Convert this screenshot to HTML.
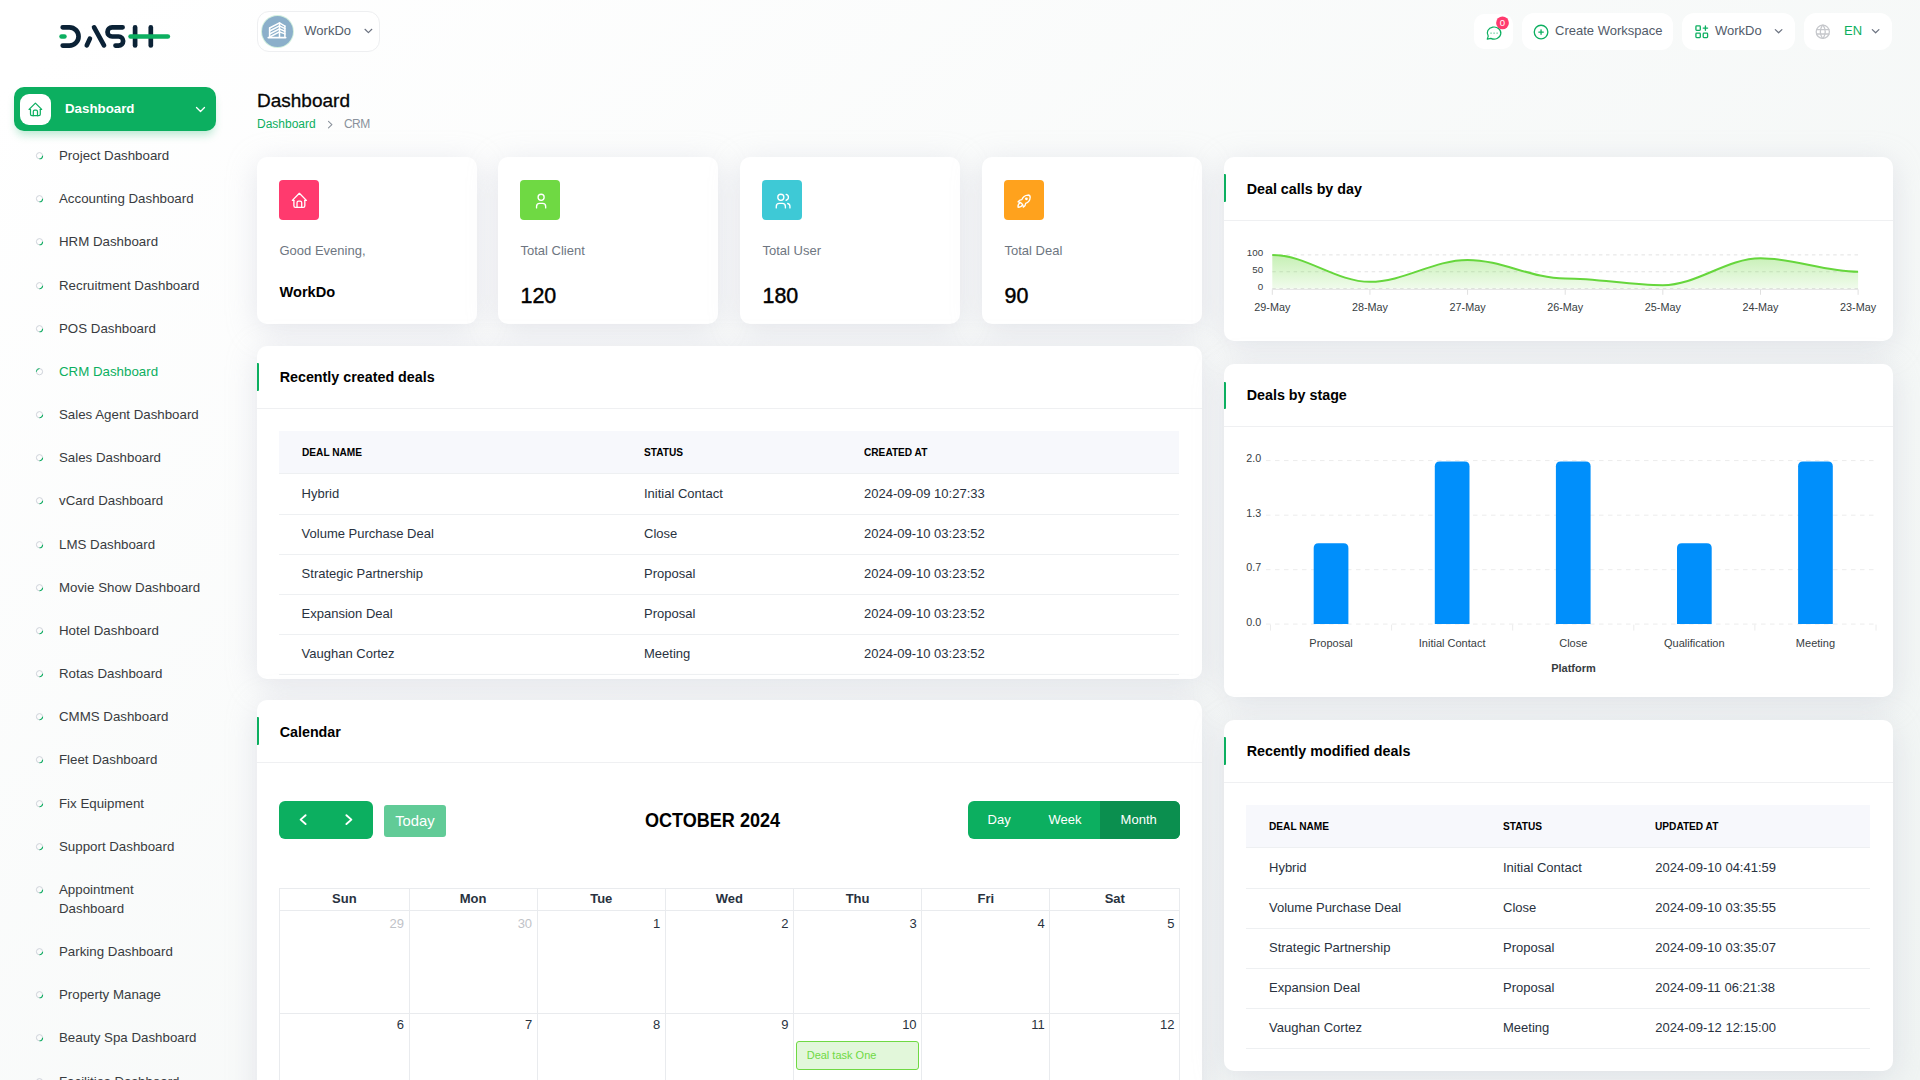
<!DOCTYPE html><html><head><meta charset='utf-8'><title>Dashboard</title><style>
*{margin:0;padding:0;box-sizing:border-box}
html,body{width:1920px;height:1080px;overflow:hidden}
body{font-family:"Liberation Sans",sans-serif;position:relative;
 background:linear-gradient(141.55deg,#ffffff 3.46%,#f0f4f3 99.86%);}
.t{position:absolute;white-space:nowrap}
.abs{position:absolute}
.card{position:absolute;background:#fff;border-radius:10px;box-shadow:0 6px 30px rgba(182,186,203,0.35)}
.hb{position:absolute;left:0;width:2px;background:#0caf60;border-radius:0 2px 2px 0}
.hl{position:absolute;left:0;right:0;height:1px;background:#f1f1f1}
.btn{position:absolute;background:#fff;border-radius:12px;}
svg{position:absolute;overflow:visible}
</style></head><body><div class="card" style="left:257px;top:157px;width:220px;height:167px"></div>
<div class="card" style="left:498px;top:157px;width:220px;height:167px"></div>
<div class="card" style="left:740px;top:157px;width:220px;height:167px"></div>
<div class="card" style="left:982px;top:157px;width:220px;height:167px"></div>
<div class="card" style="left:257px;top:346px;width:945px;height:333px"></div>
<div class="card" style="left:257px;top:700px;width:945px;height:500px"></div>
<div class="card" style="left:1224px;top:157px;width:669px;height:184.4px"></div>
<div class="card" style="left:1224px;top:364.4px;width:669px;height:332.8px"></div>
<div class="card" style="left:1224px;top:720px;width:669px;height:351px"></div><svg style="left:0;top:0" width="200" height="60" viewBox="0 0 200 60" fill="none" stroke-linecap="round" stroke-linejoin="round">
<g stroke="#0b2236" stroke-width="4.7">
<path d="M62.7 27.3 H69.4 A9.15 9.15 0 0 1 69.4 45.6 H62.7"/>
<path d="M86.8 45.4 L89.9 38.6"/>
<path d="M94.1 27.4 L104.0 45.4"/>
<path d="M122.6 27.3 H112.1 A4.6 4.6 0 0 0 112.1 36.5 H118.6 A4.55 4.55 0 0 1 118.6 45.6 H115.5"/>
<path d="M135.1 27.4 V45.5"/>
<path d="M150.8 27.4 V45.5"/>
</g>
<g stroke="#0caf60" stroke-width="4.7">
<path d="M61.6 36.5 H64.4"/>
<path d="M130.6 36.5 H167.8"/>
</g></svg>
<div class="abs" style="left:14px;top:87px;width:202px;height:44px;background:#0caf60;border-radius:10px;box-shadow:0 6px 9px -2px rgba(12,175,96,0.28)"></div>
<div class="abs" style="left:20px;top:94px;width:31px;height:31px;background:#fff;border-radius:9px"></div>

<svg style="left:27.10px;top:100.90px" width="16.80" height="16.80" viewBox="0 0 24 24" fill="none" stroke="#0caf60" stroke-width="1.75" stroke-linecap="round" stroke-linejoin="round"><path d="M5 12l-2 0l9 -9l9 9l-2 0"/><path d="M5 12v7a2 2 0 0 0 2 2h10a2 2 0 0 0 2 -2v-7"/><path d="M9 21v-6a2 2 0 0 1 2 -2h2a2 2 0 0 1 2 2v6"/></svg>

<div class='t' style='left:65px;top:101px;font-size:13.3px;line-height:15px;color:#fff;font-weight:700;'>Dashboard</div>
<svg style="left:0;top:0" width="220" height="140" fill="none" stroke="#fff" stroke-width="1.3" stroke-linecap="round" stroke-linejoin="round"><path d="M196.5 107.5 L200.5 111.5 L204.5 107.5"/></svg>
<div class='t' style='left:59px;top:148px;font-size:13.3px;line-height:15px;color:#383b40;font-weight:400;'>Project Dashboard</div>
<div class='t' style='left:59px;top:191px;font-size:13.3px;line-height:15px;color:#383b40;font-weight:400;'>Accounting Dashboard</div>
<div class='t' style='left:59px;top:234px;font-size:13.3px;line-height:15px;color:#383b40;font-weight:400;'>HRM Dashboard</div>
<div class='t' style='left:59px;top:278px;font-size:13.3px;line-height:15px;color:#383b40;font-weight:400;'>Recruitment Dashboard</div>
<div class='t' style='left:59px;top:321px;font-size:13.3px;line-height:15px;color:#383b40;font-weight:400;'>POS Dashboard</div>
<div class='t' style='left:59px;top:364px;font-size:13.3px;line-height:15px;color:#0caf60;font-weight:400;'>CRM Dashboard</div>
<div class='t' style='left:59px;top:407px;font-size:13.3px;line-height:15px;color:#383b40;font-weight:400;'>Sales Agent Dashboard</div>
<div class='t' style='left:59px;top:450px;font-size:13.3px;line-height:15px;color:#383b40;font-weight:400;'>Sales Dashboard</div>
<div class='t' style='left:59px;top:493px;font-size:13.3px;line-height:15px;color:#383b40;font-weight:400;'>vCard Dashboard</div>
<div class='t' style='left:59px;top:537px;font-size:13.3px;line-height:15px;color:#383b40;font-weight:400;'>LMS Dashboard</div>
<div class='t' style='left:59px;top:580px;font-size:13.3px;line-height:15px;color:#383b40;font-weight:400;'>Movie Show Dashboard</div>
<div class='t' style='left:59px;top:623px;font-size:13.3px;line-height:15px;color:#383b40;font-weight:400;'>Hotel Dashboard</div>
<div class='t' style='left:59px;top:666px;font-size:13.3px;line-height:15px;color:#383b40;font-weight:400;'>Rotas Dashboard</div>
<div class='t' style='left:59px;top:709px;font-size:13.3px;line-height:15px;color:#383b40;font-weight:400;'>CMMS Dashboard</div>
<div class='t' style='left:59px;top:752px;font-size:13.3px;line-height:15px;color:#383b40;font-weight:400;'>Fleet Dashboard</div>
<div class='t' style='left:59px;top:796px;font-size:13.3px;line-height:15px;color:#383b40;font-weight:400;'>Fix Equipment</div>
<div class='t' style='left:59px;top:839px;font-size:13.3px;line-height:15px;color:#383b40;font-weight:400;'>Support Dashboard</div>
<div class='t' style='left:59px;top:882px;font-size:13.3px;line-height:15px;color:#383b40;font-weight:400;'>Appointment</div>
<div class='t' style='left:59px;top:901px;font-size:13.3px;line-height:15px;color:#383b40;font-weight:400;'>Dashboard</div>
<div class='t' style='left:59px;top:944px;font-size:13.3px;line-height:15px;color:#383b40;font-weight:400;'>Parking Dashboard</div>
<div class='t' style='left:59px;top:987px;font-size:13.3px;line-height:15px;color:#383b40;font-weight:400;'>Property Manage</div>
<div class='t' style='left:59px;top:1030px;font-size:13.3px;line-height:15px;color:#383b40;font-weight:400;'>Beauty Spa Dashboard</div>
<div class='t' style='left:59px;top:1074px;font-size:13.3px;line-height:15px;color:#383b40;font-weight:400;'>Facilities Dashboard</div>
<svg style="left:0;top:0" width="60" height="1080" fill="none"><circle cx="39.5" cy="155.70" r="3.1" stroke="#c9ced6" stroke-width="0.9"/><path d="M42.6 155.70 A3.1 3.1 0 0 1 39.5 158.80" stroke="#0caf60" stroke-width="1.1"/><circle cx="39.5" cy="198.70" r="3.1" stroke="#c9ced6" stroke-width="0.9"/><path d="M42.6 198.70 A3.1 3.1 0 0 1 39.5 201.80" stroke="#0caf60" stroke-width="1.1"/><circle cx="39.5" cy="241.70" r="3.1" stroke="#c9ced6" stroke-width="0.9"/><path d="M42.6 241.70 A3.1 3.1 0 0 1 39.5 244.80" stroke="#0caf60" stroke-width="1.1"/><circle cx="39.5" cy="285.70" r="3.1" stroke="#c9ced6" stroke-width="0.9"/><path d="M42.6 285.70 A3.1 3.1 0 0 1 39.5 288.80" stroke="#0caf60" stroke-width="1.1"/><circle cx="39.5" cy="328.70" r="3.1" stroke="#c9ced6" stroke-width="0.9"/><path d="M42.6 328.70 A3.1 3.1 0 0 1 39.5 331.80" stroke="#0caf60" stroke-width="1.1"/><circle cx="39.5" cy="371.70" r="3.1" stroke="#c9ced6" stroke-width="0.9"/><path d="M36.4 371.70 A3.1 3.1 0 0 1 39.5 368.60" stroke="#0caf60" stroke-width="1"/><circle cx="39.5" cy="414.70" r="3.1" stroke="#c9ced6" stroke-width="0.9"/><path d="M42.6 414.70 A3.1 3.1 0 0 1 39.5 417.80" stroke="#0caf60" stroke-width="1.1"/><circle cx="39.5" cy="457.70" r="3.1" stroke="#c9ced6" stroke-width="0.9"/><path d="M42.6 457.70 A3.1 3.1 0 0 1 39.5 460.80" stroke="#0caf60" stroke-width="1.1"/><circle cx="39.5" cy="500.70" r="3.1" stroke="#c9ced6" stroke-width="0.9"/><path d="M42.6 500.70 A3.1 3.1 0 0 1 39.5 503.80" stroke="#0caf60" stroke-width="1.1"/><circle cx="39.5" cy="544.70" r="3.1" stroke="#c9ced6" stroke-width="0.9"/><path d="M42.6 544.70 A3.1 3.1 0 0 1 39.5 547.80" stroke="#0caf60" stroke-width="1.1"/><circle cx="39.5" cy="587.70" r="3.1" stroke="#c9ced6" stroke-width="0.9"/><path d="M42.6 587.70 A3.1 3.1 0 0 1 39.5 590.80" stroke="#0caf60" stroke-width="1.1"/><circle cx="39.5" cy="630.70" r="3.1" stroke="#c9ced6" stroke-width="0.9"/><path d="M42.6 630.70 A3.1 3.1 0 0 1 39.5 633.80" stroke="#0caf60" stroke-width="1.1"/><circle cx="39.5" cy="673.70" r="3.1" stroke="#c9ced6" stroke-width="0.9"/><path d="M42.6 673.70 A3.1 3.1 0 0 1 39.5 676.80" stroke="#0caf60" stroke-width="1.1"/><circle cx="39.5" cy="716.70" r="3.1" stroke="#c9ced6" stroke-width="0.9"/><path d="M42.6 716.70 A3.1 3.1 0 0 1 39.5 719.80" stroke="#0caf60" stroke-width="1.1"/><circle cx="39.5" cy="759.70" r="3.1" stroke="#c9ced6" stroke-width="0.9"/><path d="M42.6 759.70 A3.1 3.1 0 0 1 39.5 762.80" stroke="#0caf60" stroke-width="1.1"/><circle cx="39.5" cy="803.70" r="3.1" stroke="#c9ced6" stroke-width="0.9"/><path d="M42.6 803.70 A3.1 3.1 0 0 1 39.5 806.80" stroke="#0caf60" stroke-width="1.1"/><circle cx="39.5" cy="846.70" r="3.1" stroke="#c9ced6" stroke-width="0.9"/><path d="M42.6 846.70 A3.1 3.1 0 0 1 39.5 849.80" stroke="#0caf60" stroke-width="1.1"/><circle cx="39.5" cy="889.70" r="3.1" stroke="#c9ced6" stroke-width="0.9"/><path d="M42.6 889.70 A3.1 3.1 0 0 1 39.5 892.80" stroke="#0caf60" stroke-width="1.1"/><circle cx="39.5" cy="951.70" r="3.1" stroke="#c9ced6" stroke-width="0.9"/><path d="M42.6 951.70 A3.1 3.1 0 0 1 39.5 954.80" stroke="#0caf60" stroke-width="1.1"/><circle cx="39.5" cy="994.70" r="3.1" stroke="#c9ced6" stroke-width="0.9"/><path d="M42.6 994.70 A3.1 3.1 0 0 1 39.5 997.80" stroke="#0caf60" stroke-width="1.1"/><circle cx="39.5" cy="1037.70" r="3.1" stroke="#c9ced6" stroke-width="0.9"/><path d="M42.6 1037.70 A3.1 3.1 0 0 1 39.5 1040.80" stroke="#0caf60" stroke-width="1.1"/><circle cx="39.5" cy="1081.70" r="3.1" stroke="#c9ced6" stroke-width="0.9"/><path d="M42.6 1081.70 A3.1 3.1 0 0 1 39.5 1084.80" stroke="#0caf60" stroke-width="1.1"/></svg>
<div class="abs" style="left:257px;top:11px;width:122.5px;height:40.5px;background:#fff;border:1px solid #eeeff1;border-radius:12px"></div>
<div class="abs" style="left:262px;top:16px;width:31px;height:31px;border-radius:50%;background:#8bafca;box-shadow:0 0 0 1px #d3f0df"></div>
<svg style="left:262px;top:16px" width="31" height="31" viewBox="0 0 31 31" fill="none" stroke="#fff" stroke-width="1.5" stroke-linecap="round" stroke-linejoin="round"><path d="M7.6 12.0 L17.5 6.9 L22.9 10.1"/><path d="M7.6 15.0 L17.5 9.9 L22.9 12.7"/><path d="M7.6 18.0 L17.5 12.9 L22.9 15.3"/><path d="M7.6 21.0 L17.5 15.9 L22.9 17.9"/><path d="M7.6 12 V21.3"/><path d="M17.5 7 V21.3"/><path d="M22.9 10.1 V21.3"/><path d="M6.3 21.6 H23.6" stroke-width="1.8"/></svg>
<div class='t' style='left:304.3px;top:23px;font-size:13px;line-height:15px;color:#525b69;font-weight:400;'>WorkDo</div>
<svg style="left:0;top:0" width="400" height="60" fill="none" stroke="#6b7280" stroke-width="1.2" stroke-linecap="round" stroke-linejoin="round"><path d="M365 29.3 L368.4 32.6 L371.8 29.3"/></svg>
<div class="btn" style="left:1474px;top:14px;width:39px;height:35px;border-radius:10px"></div>
<div class="btn" style="left:1522px;top:13px;width:151px;height:37px"></div>
<div class="btn" style="left:1682px;top:13px;width:113px;height:37px"></div>
<div class="btn" style="left:1804px;top:13px;width:88px;height:37px"></div>
<svg style="left:1484.70px;top:24.06px" width="18.12" height="18.12" viewBox="0 0 24 24" fill="none" stroke="#0caf60" stroke-width="1.6" stroke-linecap="round" stroke-linejoin="round"><path d="M3 20l1.3 -3.9a9 8 0 1 1 3.4 2.9l-4.7 1"/><path d="M8 12l0 .01"/><path d="M12 12l0 .01"/><path d="M16 12l0 .01"/></svg>
<svg style="left:1531.90px;top:22.54px" width="18.12" height="18.12" viewBox="0 0 24 24" fill="none" stroke="#0caf60" stroke-width="1.75" stroke-linecap="round" stroke-linejoin="round"><path d="M3 12a9 9 0 1 0 18 0a9 9 0 0 0 -18 0"/><path d="M9 12h6"/><path d="M12 9v6"/></svg>
<svg style="left:1692.50px;top:22.90px" width="17.52" height="17.52" viewBox="0 0 24 24" fill="none" stroke="#0caf60" stroke-width="1.8" stroke-linecap="round" stroke-linejoin="round"><path d="M4 4m0 1a1 1 0 0 1 1 -1h4a1 1 0 0 1 1 1v4a1 1 0 0 1 -1 1h-4a1 1 0 0 1 -1 -1z"/><path d="M4 14m0 1a1 1 0 0 1 1 -1h4a1 1 0 0 1 1 1v4a1 1 0 0 1 -1 1h-4a1 1 0 0 1 -1 -1z"/><path d="M14 14m0 1a1 1 0 0 1 1 -1h4a1 1 0 0 1 1 1v4a1 1 0 0 1 -1 1h-4a1 1 0 0 1 -1 -1z"/><path d="M14 7l6 0"/><path d="M17 4l0 6"/></svg>
<svg style="left:1814.10px;top:23.20px" width="17.59" height="17.59" viewBox="0 0 24 24" fill="none" stroke="#c6c8cc" stroke-width="1.75" stroke-linecap="round" stroke-linejoin="round"><path d="M3 12a9 9 0 1 0 18 0a9 9 0 0 0 -18 0"/><path d="M3.6 9h16.8"/><path d="M3.6 15h16.8"/><path d="M11.5 3a17 17 0 0 0 0 18"/><path d="M12.5 3a17 17 0 0 1 0 18"/></svg>
<svg style="left:0;top:0" width="1920" height="60" fill="none" stroke-linecap="round" stroke-linejoin="round">
<circle cx="1502.5" cy="22.9" r="6.4" fill="#ff3a6e" stroke="none"/>
<g stroke="#6b7280" stroke-width="1.2"><path d="M1775.3 29.6 L1778.6 32.8 L1781.9 29.6"/><path d="M1872.3 29.6 L1875.6 32.8 L1878.9 29.6"/></g>
</svg>
<div class='t' style='left:1202.5px;width:600px;text-align:center;top:17px;font-size:9.6px;line-height:11px;color:#fff;font-weight:400;'>0</div>
<div class='t' style='left:1555px;top:23px;font-size:13px;line-height:15px;color:#525b69;font-weight:400;'>Create Workspace</div>
<div class='t' style='left:1715px;top:23px;font-size:13px;line-height:15px;color:#525b69;font-weight:400;'>WorkDo</div>
<div class='t' style='left:1844.1px;top:23px;font-size:13px;line-height:15px;color:#0caf60;font-weight:400;'>EN</div>
<div class='t' style='left:257px;top:90px;font-size:19px;line-height:21px;color:#060606;font-weight:400;-webkit-text-stroke:0.3px #060606'>Dashboard</div>
<div class='t' style='left:257px;top:117px;font-size:12px;line-height:14px;color:#0caf60;font-weight:400;'>Dashboard</div>
<svg style="left:0;top:0" width="400" height="140" fill="none" stroke="#8a929c" stroke-width="1.1" stroke-linecap="round" stroke-linejoin="round"><path d="M328.5 121.4 L331.9 124.6 L328.5 127.8"/></svg>
<div class='t' style='left:344px;top:117px;font-size:12px;line-height:14px;color:#8a929c;font-weight:400;letter-spacing:-0.6px'>CRM</div>
<div class="abs" style="left:279.2px;top:180px;width:40px;height:40px;background:#ff3a6e;border-radius:4px"></div>
<div class='t' style='left:279.5px;top:243px;font-size:13px;line-height:15px;color:#6e7681;font-weight:400;'>Good Evening,</div>
<div class='t' style='left:279.5px;top:284px;font-size:14.6px;line-height:16px;color:#000;font-weight:700;'>WorkDo</div>
<div class="abs" style="left:520.2px;top:180px;width:40px;height:40px;background:#6fd943;border-radius:4px"></div>
<div class='t' style='left:520.5px;top:243px;font-size:13px;line-height:15px;color:#6e7681;font-weight:400;'>Total Client</div>
<div class='t' style='left:520.5px;top:284px;font-size:21.4px;line-height:24px;color:#000;font-weight:400;-webkit-text-stroke:0.45px #000'>120</div>
<div class="abs" style="left:762.2px;top:180px;width:40px;height:40px;background:#3ec9d6;border-radius:4px"></div>
<div class='t' style='left:762.5px;top:243px;font-size:13px;line-height:15px;color:#6e7681;font-weight:400;'>Total User</div>
<div class='t' style='left:762.5px;top:284px;font-size:21.4px;line-height:24px;color:#000;font-weight:400;-webkit-text-stroke:0.45px #000'>180</div>
<div class="abs" style="left:1004.2px;top:180px;width:40px;height:40px;background:#ffa21d;border-radius:4px"></div>
<div class='t' style='left:1004.5px;top:243px;font-size:13px;line-height:15px;color:#6e7681;font-weight:400;'>Total Deal</div>
<div class='t' style='left:1004.5px;top:284px;font-size:21.4px;line-height:24px;color:#000;font-weight:400;-webkit-text-stroke:0.45px #000'>90</div>
<svg style="left:289.90px;top:191.30px" width="18.72" height="18.72" viewBox="0 0 24 24" fill="none" stroke="#fff" stroke-width="1.7" stroke-linecap="round" stroke-linejoin="round"><path d="M5 12l-2 0l9 -9l9 9l-2 0"/><path d="M5 12v7a2 2 0 0 0 2 2h10a2 2 0 0 0 2 -2v-7"/><path d="M9 21v-6a2 2 0 0 1 2 -2h2a2 2 0 0 1 2 2v6"/></svg>
<svg style="left:532.00px;top:191.70px" width="18.24" height="18.24" viewBox="0 0 24 24" fill="none" stroke="#fff" stroke-width="1.75" stroke-linecap="round" stroke-linejoin="round"><path d="M8 7a4 4 0 1 0 8 0a4 4 0 0 0 -8 0"/><path d="M6 21v-2a4 4 0 0 1 4 -4h4a4 4 0 0 1 4 4v2"/></svg>
<svg style="left:774.06px;top:191.68px" width="18.24" height="18.24" viewBox="0 0 24 24" fill="none" stroke="#fff" stroke-width="1.75" stroke-linecap="round" stroke-linejoin="round"><path d="M5 7a4 4 0 1 0 8 0a4 4 0 1 0 -8 0"/><path d="M3 21v-2a4 4 0 0 1 4 -4h4a4 4 0 0 1 4 4v2"/><path d="M16 3.13a4 4 0 0 1 0 7.75"/><path d="M21 21v-2a4 4 0 0 0 -3 -3.85"/></svg>
<svg style="left:1015.10px;top:192.10px" width="18.24" height="18.24" viewBox="0 0 24 24" fill="none" stroke="#fff" stroke-width="1.75" stroke-linecap="round" stroke-linejoin="round"><path d="M4 13a8 8 0 0 1 7 7a6 6 0 0 0 3 -5a9 9 0 0 0 6 -8a3 3 0 0 0 -3 -3a9 9 0 0 0 -8 6a6 6 0 0 0 -5 3"/><path d="M7 14a6 6 0 0 0 -3 6a6 6 0 0 0 6 -3"/><path d="M15 9m-1 0a1 1 0 1 0 2 0a1 1 0 1 0 -2 0"/></svg>
<div class="abs" style="left:257px;top:363.4px;width:2px;height:27.2px;background:#0caf60;border-radius:0 1px 1px 0"></div>
<div class='t' style='left:279.7px;top:369px;font-size:14.3px;line-height:16px;color:#000;font-weight:700;'>Recently created deals</div>
<div class="abs" style="left:257px;top:408px;width:945px;height:1px;background:#eff0f2"></div>
<div class="abs" style="left:279px;top:431px;width:900px;height:42px;background:#f7f8fc"></div>
<div class='t' style='left:301.6px;top:446px;font-size:11.2px;line-height:12px;color:#000;font-weight:700;transform:scaleX(0.905);transform-origin:0 0'>DEAL NAME</div>
<div class='t' style='left:644px;top:446px;font-size:11.2px;line-height:12px;color:#000;font-weight:700;transform:scaleX(0.905);transform-origin:0 0'>STATUS</div>
<div class='t' style='left:864px;top:446px;font-size:11.2px;line-height:12px;color:#000;font-weight:700;transform:scaleX(0.905);transform-origin:0 0'>CREATED AT</div>
<div class="abs" style="left:279px;top:473px;width:900px;height:1px;background:#eef0f2"></div>
<div class='t' style='left:301.6px;top:486px;font-size:13px;line-height:15px;color:#293240;font-weight:400;'>Hybrid</div>
<div class='t' style='left:644px;top:486px;font-size:13px;line-height:15px;color:#293240;font-weight:400;'>Initial Contact</div>
<div class='t' style='left:864px;top:486px;font-size:13px;line-height:15px;color:#293240;font-weight:400;'>2024-09-09 10:27:33</div>
<div class="abs" style="left:279px;top:514px;width:900px;height:1px;background:#eef0f2"></div>
<div class='t' style='left:301.6px;top:526px;font-size:13px;line-height:15px;color:#293240;font-weight:400;'>Volume Purchase Deal</div>
<div class='t' style='left:644px;top:526px;font-size:13px;line-height:15px;color:#293240;font-weight:400;'>Close</div>
<div class='t' style='left:864px;top:526px;font-size:13px;line-height:15px;color:#293240;font-weight:400;'>2024-09-10 03:23:52</div>
<div class="abs" style="left:279px;top:554px;width:900px;height:1px;background:#eef0f2"></div>
<div class='t' style='left:301.6px;top:566px;font-size:13px;line-height:15px;color:#293240;font-weight:400;'>Strategic Partnership</div>
<div class='t' style='left:644px;top:566px;font-size:13px;line-height:15px;color:#293240;font-weight:400;'>Proposal</div>
<div class='t' style='left:864px;top:566px;font-size:13px;line-height:15px;color:#293240;font-weight:400;'>2024-09-10 03:23:52</div>
<div class="abs" style="left:279px;top:594px;width:900px;height:1px;background:#eef0f2"></div>
<div class='t' style='left:301.6px;top:606px;font-size:13px;line-height:15px;color:#293240;font-weight:400;'>Expansion Deal</div>
<div class='t' style='left:644px;top:606px;font-size:13px;line-height:15px;color:#293240;font-weight:400;'>Proposal</div>
<div class='t' style='left:864px;top:606px;font-size:13px;line-height:15px;color:#293240;font-weight:400;'>2024-09-10 03:23:52</div>
<div class="abs" style="left:279px;top:634px;width:900px;height:1px;background:#eef0f2"></div>
<div class='t' style='left:301.6px;top:646px;font-size:13px;line-height:15px;color:#293240;font-weight:400;'>Vaughan Cortez</div>
<div class='t' style='left:644px;top:646px;font-size:13px;line-height:15px;color:#293240;font-weight:400;'>Meeting</div>
<div class='t' style='left:864px;top:646px;font-size:13px;line-height:15px;color:#293240;font-weight:400;'>2024-09-10 03:23:52</div>
<div class="abs" style="left:279px;top:674px;width:900px;height:1px;background:#eef0f2"></div>
<div class="abs" style="left:1224px;top:737.4px;width:2px;height:27.2px;background:#0caf60;border-radius:0 1px 1px 0"></div>
<div class='t' style='left:1246.7px;top:743px;font-size:14.3px;line-height:16px;color:#000;font-weight:700;'>Recently modified deals</div>
<div class="abs" style="left:1224px;top:781.8px;width:669px;height:1px;background:#eff0f2"></div>
<div class="abs" style="left:1246px;top:805px;width:624px;height:42px;background:#f7f8fc"></div>
<div class='t' style='left:1269px;top:820px;font-size:11.2px;line-height:12px;color:#000;font-weight:700;transform:scaleX(0.905);transform-origin:0 0'>DEAL NAME</div>
<div class='t' style='left:1503px;top:820px;font-size:11.2px;line-height:12px;color:#000;font-weight:700;transform:scaleX(0.905);transform-origin:0 0'>STATUS</div>
<div class='t' style='left:1655.3px;top:820px;font-size:11.2px;line-height:12px;color:#000;font-weight:700;transform:scaleX(0.905);transform-origin:0 0'>UPDATED AT</div>
<div class="abs" style="left:1246px;top:847px;width:624px;height:1px;background:#eef0f2"></div>
<div class='t' style='left:1269px;top:860px;font-size:13px;line-height:15px;color:#293240;font-weight:400;'>Hybrid</div>
<div class='t' style='left:1503px;top:860px;font-size:13px;line-height:15px;color:#293240;font-weight:400;'>Initial Contact</div>
<div class='t' style='left:1655.3px;top:860px;font-size:13px;line-height:15px;color:#293240;font-weight:400;'>2024-09-10 04:41:59</div>
<div class="abs" style="left:1246px;top:888px;width:624px;height:1px;background:#eef0f2"></div>
<div class='t' style='left:1269px;top:900px;font-size:13px;line-height:15px;color:#293240;font-weight:400;'>Volume Purchase Deal</div>
<div class='t' style='left:1503px;top:900px;font-size:13px;line-height:15px;color:#293240;font-weight:400;'>Close</div>
<div class='t' style='left:1655.3px;top:900px;font-size:13px;line-height:15px;color:#293240;font-weight:400;'>2024-09-10 03:35:55</div>
<div class="abs" style="left:1246px;top:928px;width:624px;height:1px;background:#eef0f2"></div>
<div class='t' style='left:1269px;top:940px;font-size:13px;line-height:15px;color:#293240;font-weight:400;'>Strategic Partnership</div>
<div class='t' style='left:1503px;top:940px;font-size:13px;line-height:15px;color:#293240;font-weight:400;'>Proposal</div>
<div class='t' style='left:1655.3px;top:940px;font-size:13px;line-height:15px;color:#293240;font-weight:400;'>2024-09-10 03:35:07</div>
<div class="abs" style="left:1246px;top:968px;width:624px;height:1px;background:#eef0f2"></div>
<div class='t' style='left:1269px;top:980px;font-size:13px;line-height:15px;color:#293240;font-weight:400;'>Expansion Deal</div>
<div class='t' style='left:1503px;top:980px;font-size:13px;line-height:15px;color:#293240;font-weight:400;'>Proposal</div>
<div class='t' style='left:1655.3px;top:980px;font-size:13px;line-height:15px;color:#293240;font-weight:400;'>2024-09-11 06:21:38</div>
<div class="abs" style="left:1246px;top:1008px;width:624px;height:1px;background:#eef0f2"></div>
<div class='t' style='left:1269px;top:1020px;font-size:13px;line-height:15px;color:#293240;font-weight:400;'>Vaughan Cortez</div>
<div class='t' style='left:1503px;top:1020px;font-size:13px;line-height:15px;color:#293240;font-weight:400;'>Meeting</div>
<div class='t' style='left:1655.3px;top:1020px;font-size:13px;line-height:15px;color:#293240;font-weight:400;'>2024-09-12 12:15:00</div>
<div class="abs" style="left:1246px;top:1048px;width:624px;height:1px;background:#eef0f2"></div>
<div class="abs" style="left:257px;top:717.4px;width:2px;height:27.2px;background:#0caf60;border-radius:0 1px 1px 0"></div>
<div class='t' style='left:279.7px;top:724px;font-size:14.3px;line-height:16px;color:#000;font-weight:700;'>Calendar</div>
<div class="abs" style="left:257px;top:762px;width:945px;height:1px;background:#eff0f2"></div>
<div class="abs" style="left:279.2px;top:801px;width:93.5px;height:37.8px;background:#0caf60;border-radius:6px"></div>
<svg style="left:0;top:0" width="1200" height="1080" fill="none" stroke="#fff" stroke-width="1.9" stroke-linecap="round" stroke-linejoin="round">
<path d="M305.6 815.2 L300.6 819.6 L305.6 824.0"/><path d="M346.4 815.2 L351.4 819.6 L346.4 824.0"/></svg>
<div class="abs" style="left:384px;top:805px;width:62px;height:32px;background:#61cb97;border-radius:3px"></div>
<div class="abs" style="left:968.3px;top:801px;width:211.5px;height:37.7px;background:#0caf60;border-radius:6px;overflow:hidden"><div class="abs" style="left:132.2px;top:0;width:80px;height:38px;background:#0b8f4f"></div></div>
<div class='t' style='left:395.2px;top:813px;font-size:14.8px;line-height:16px;color:#fff;font-weight:400;'>Today</div>
<div class='t' style='left:645.2px;top:809px;font-size:20px;line-height:22px;color:#000;font-weight:700;transform:scaleX(0.902);transform-origin:0 0'>OCTOBER 2024</div>
<div class='t' style='left:987.6px;top:812px;font-size:13px;line-height:15px;color:#fff;font-weight:400;'>Day</div>
<div class='t' style='left:1048.5px;top:812px;font-size:13px;line-height:15px;color:#fff;font-weight:400;'>Week</div>
<div class='t' style='left:1120.6px;top:812px;font-size:13px;line-height:15px;color:#fff;font-weight:400;'>Month</div>
<div class="abs" style="left:279.3px;top:887.5px;width:900.8px;height:1px;background:#e9ebee"></div><div class="abs" style="left:279.3px;top:910.4px;width:900.8px;height:1px;background:#e9ebee"></div><div class="abs" style="left:279.3px;top:1012.5px;width:900.8px;height:1px;background:#e9ebee"></div><div class="abs" style="left:279.3px;top:1114.6px;width:900.8px;height:1px;background:#e9ebee"></div><div class="abs" style="left:279.3px;top:887.5px;width:1px;height:300px;background:#e9ebee"></div><div class="abs" style="left:408.5px;top:887.5px;width:1px;height:300px;background:#e9ebee"></div><div class="abs" style="left:536.7px;top:887.5px;width:1px;height:300px;background:#e9ebee"></div><div class="abs" style="left:664.8px;top:887.5px;width:1px;height:300px;background:#e9ebee"></div><div class="abs" style="left:793.0px;top:887.5px;width:1px;height:300px;background:#e9ebee"></div><div class="abs" style="left:921.2px;top:887.5px;width:1px;height:300px;background:#e9ebee"></div><div class="abs" style="left:1049.4px;top:887.5px;width:1px;height:300px;background:#e9ebee"></div><div class="abs" style="left:1179.1px;top:887.5px;width:1px;height:300px;background:#e9ebee"></div>
<div class='t' style='left:44.39999999999998px;width:600px;text-align:center;top:891px;font-size:13px;line-height:15px;color:#293240;font-weight:700;'>Sun</div>
<div class='t' style='left:173.10000000000002px;width:600px;text-align:center;top:891px;font-size:13px;line-height:15px;color:#293240;font-weight:700;'>Mon</div>
<div class='t' style='left:301.25px;width:600px;text-align:center;top:891px;font-size:13px;line-height:15px;color:#293240;font-weight:700;'>Tue</div>
<div class='t' style='left:429.4px;width:600px;text-align:center;top:891px;font-size:13px;line-height:15px;color:#293240;font-weight:700;'>Wed</div>
<div class='t' style='left:557.6px;width:600px;text-align:center;top:891px;font-size:13px;line-height:15px;color:#293240;font-weight:700;'>Thu</div>
<div class='t' style='left:685.8000000000001px;width:600px;text-align:center;top:891px;font-size:13px;line-height:15px;color:#293240;font-weight:700;'>Fri</div>
<div class='t' style='left:814.75px;width:600px;text-align:center;top:891px;font-size:13px;line-height:15px;color:#293240;font-weight:700;'>Sat</div>
<div class='t' style='right:1516.1px;top:916px;font-size:13px;line-height:15px;color:#bfc3c8;font-weight:400;'>29</div>
<div class='t' style='right:1516.1px;top:1017px;font-size:13px;line-height:15px;color:#293240;font-weight:400;'>6</div>
<div class='t' style='right:1387.9px;top:916px;font-size:13px;line-height:15px;color:#bfc3c8;font-weight:400;'>30</div>
<div class='t' style='right:1387.9px;top:1017px;font-size:13px;line-height:15px;color:#293240;font-weight:400;'>7</div>
<div class='t' style='right:1259.8000000000002px;top:916px;font-size:13px;line-height:15px;color:#293240;font-weight:400;'>1</div>
<div class='t' style='right:1259.8000000000002px;top:1017px;font-size:13px;line-height:15px;color:#293240;font-weight:400;'>8</div>
<div class='t' style='right:1131.6px;top:916px;font-size:13px;line-height:15px;color:#293240;font-weight:400;'>2</div>
<div class='t' style='right:1131.6px;top:1017px;font-size:13px;line-height:15px;color:#293240;font-weight:400;'>9</div>
<div class='t' style='right:1003.4px;top:916px;font-size:13px;line-height:15px;color:#293240;font-weight:400;'>3</div>
<div class='t' style='right:1003.4px;top:1017px;font-size:13px;line-height:15px;color:#293240;font-weight:400;'>10</div>
<div class='t' style='right:875.1999999999998px;top:916px;font-size:13px;line-height:15px;color:#293240;font-weight:400;'>4</div>
<div class='t' style='right:875.1999999999998px;top:1017px;font-size:13px;line-height:15px;color:#293240;font-weight:400;'>11</div>
<div class='t' style='right:745.5px;top:916px;font-size:13px;line-height:15px;color:#293240;font-weight:400;'>5</div>
<div class='t' style='right:745.5px;top:1017px;font-size:13px;line-height:15px;color:#293240;font-weight:400;'>12</div>
<div class="abs" style="left:796.2px;top:1041.1px;width:122.6px;height:28.5px;background:#e2f7da;border:1px solid #6fd943;border-radius:3px"></div>
<div class='t' style='left:806.7px;top:1049px;font-size:11px;line-height:12px;color:#6fd943;font-weight:400;'>Deal task One</div>
<div class="abs" style="left:1224px;top:174.4px;width:2px;height:27.2px;background:#0caf60;border-radius:0 1px 1px 0"></div>
<div class='t' style='left:1246.7px;top:181px;font-size:14.3px;line-height:16px;color:#000;font-weight:700;'>Deal calls by day</div>
<div class="abs" style="left:1224px;top:220px;width:669px;height:1px;background:#eff0f2"></div>
<svg style="left:0;top:0" width="1920" height="400" fill="none"><defs><linearGradient id="ag" x1="0" y1="0" x2="0" y2="1"><stop offset="0" stop-color="#6fd943" stop-opacity="0.40"/><stop offset="1" stop-color="#6fd943" stop-opacity="0.10"/></linearGradient></defs><path d="M1272.3 254.90 H1858.1" stroke="#e2e2e2" stroke-width="1" stroke-dasharray="3.5 3.6"/><path d="M1272.3 271.75 H1858.1" stroke="#e2e2e2" stroke-width="1" stroke-dasharray="3.5 3.6"/><path d="M1272.3 288.60 H1858.1" stroke="#e2e2e2" stroke-width="1" stroke-dasharray="3.5 3.6"/><path d="M1272.3 289.40 H1858.1" stroke="#e3e3e3" stroke-width="1"/><path d="M1272.30 289.40 V294.80" stroke="#e0e0e0" stroke-width="1"/><path d="M1369.93 289.40 V294.80" stroke="#e0e0e0" stroke-width="1"/><path d="M1467.57 289.40 V294.80" stroke="#e0e0e0" stroke-width="1"/><path d="M1565.20 289.40 V294.80" stroke="#e0e0e0" stroke-width="1"/><path d="M1662.83 289.40 V294.80" stroke="#e0e0e0" stroke-width="1"/><path d="M1760.47 289.40 V294.80" stroke="#e0e0e0" stroke-width="1"/><path d="M1858.10 289.40 V294.80" stroke="#e0e0e0" stroke-width="1"/><path d="M1272.30 254.90 C1306.47 254.90 1335.76 281.86 1369.93 281.86 C1404.11 281.86 1433.39 259.95 1467.57 259.95 C1501.74 259.95 1531.03 278.49 1565.20 278.49 C1599.37 278.49 1628.66 285.23 1662.83 285.23 C1697.00 285.23 1726.30 258.27 1760.47 258.27 C1794.64 258.27 1823.93 271.75 1858.10 271.75 L1858.10 288.60 L1272.30 288.60 Z" fill="url(#ag)" stroke="none"/><path d="M1272.30 254.90 C1306.47 254.90 1335.76 281.86 1369.93 281.86 C1404.11 281.86 1433.39 259.95 1467.57 259.95 C1501.74 259.95 1531.03 278.49 1565.20 278.49 C1599.37 278.49 1628.66 285.23 1662.83 285.23 C1697.00 285.23 1726.30 258.27 1760.47 258.27 C1794.64 258.27 1823.93 271.75 1858.10 271.75" stroke="#66d63c" stroke-width="2" fill="none"/></svg>
<div class='t' style='right:656.8px;top:247px;font-size:9.8px;line-height:11px;color:#373d3f;font-weight:400;transform:scaleY(0.86);transform-origin:50% 9px'>100</div>
<div class='t' style='right:656.8px;top:264px;font-size:9.8px;line-height:11px;color:#373d3f;font-weight:400;transform:scaleY(0.86);transform-origin:50% 9px'>50</div>
<div class='t' style='right:656.8px;top:281px;font-size:9.8px;line-height:11px;color:#373d3f;font-weight:400;transform:scaleY(0.86);transform-origin:50% 9px'>0</div>
<div class='t' style='left:972.3px;width:600px;text-align:center;top:301px;font-size:10.8px;line-height:12px;color:#373d3f;font-weight:400;'>29-May</div>
<div class='t' style='left:1069.9333333333334px;width:600px;text-align:center;top:301px;font-size:10.8px;line-height:12px;color:#373d3f;font-weight:400;'>28-May</div>
<div class='t' style='left:1167.5666666666666px;width:600px;text-align:center;top:301px;font-size:10.8px;line-height:12px;color:#373d3f;font-weight:400;'>27-May</div>
<div class='t' style='left:1265.1999999999998px;width:600px;text-align:center;top:301px;font-size:10.8px;line-height:12px;color:#373d3f;font-weight:400;'>26-May</div>
<div class='t' style='left:1362.8333333333333px;width:600px;text-align:center;top:301px;font-size:10.8px;line-height:12px;color:#373d3f;font-weight:400;'>25-May</div>
<div class='t' style='left:1460.4666666666667px;width:600px;text-align:center;top:301px;font-size:10.8px;line-height:12px;color:#373d3f;font-weight:400;'>24-May</div>
<div class='t' style='left:1558.1px;width:600px;text-align:center;top:301px;font-size:10.8px;line-height:12px;color:#373d3f;font-weight:400;'>23-May</div>
<div class="abs" style="left:1224px;top:381.79999999999995px;width:2px;height:27.2px;background:#0caf60;border-radius:0 1px 1px 0"></div>
<div class='t' style='left:1246.7px;top:387px;font-size:14.3px;line-height:16px;color:#000;font-weight:700;'>Deals by stage</div>
<div class="abs" style="left:1224px;top:426px;width:669px;height:1px;background:#eff0f2"></div>
<svg style="left:0;top:0" width="1920" height="700" fill="none"><path d="M1266 624.1 H1877.0" stroke="#ececec" stroke-width="1" stroke-dasharray="4.5 4.5"/><path d="M1266 569.7 H1877.0" stroke="#ececec" stroke-width="1" stroke-dasharray="4.5 4.5"/><path d="M1266 515.2 H1877.0" stroke="#ececec" stroke-width="1" stroke-dasharray="4.5 4.5"/><path d="M1266 460.6 H1877.0" stroke="#ececec" stroke-width="1" stroke-dasharray="4.5 4.5"/><path d="M1270.5 624.6 V630.6" stroke="#ececec" stroke-width="1"/><path d="M1391.6 624.6 V630.6" stroke="#ececec" stroke-width="1"/><path d="M1512.7 624.6 V630.6" stroke="#ececec" stroke-width="1"/><path d="M1633.8 624.6 V630.6" stroke="#ececec" stroke-width="1"/><path d="M1754.9 624.6 V630.6" stroke="#ececec" stroke-width="1"/><path d="M1876.0 624.6 V630.6" stroke="#ececec" stroke-width="1"/><path d="M1313.70 624.10 V547.95 Q1313.70 543.15 1318.50 543.15 H1343.60 Q1348.40 543.15 1348.40 547.95 V624.10 Z" fill="#008ffb"/><path d="M1434.80 624.10 V466.20 Q1434.80 461.40 1439.60 461.40 H1464.70 Q1469.50 461.40 1469.50 466.20 V624.10 Z" fill="#008ffb"/><path d="M1555.90 624.10 V466.20 Q1555.90 461.40 1560.70 461.40 H1585.80 Q1590.60 461.40 1590.60 466.20 V624.10 Z" fill="#008ffb"/><path d="M1677.00 624.10 V547.95 Q1677.00 543.15 1681.80 543.15 H1706.90 Q1711.70 543.15 1711.70 547.95 V624.10 Z" fill="#008ffb"/><path d="M1798.10 624.10 V466.20 Q1798.10 461.40 1802.90 461.40 H1828.00 Q1832.80 461.40 1832.80 466.20 V624.10 Z" fill="#008ffb"/></svg>
<div class='t' style='right:658.9000000000001px;top:616px;font-size:10.7px;line-height:12px;color:#373d3f;font-weight:400;'>0.0</div>
<div class='t' style='right:658.9000000000001px;top:561px;font-size:10.7px;line-height:12px;color:#373d3f;font-weight:400;'>0.7</div>
<div class='t' style='right:658.9000000000001px;top:507px;font-size:10.7px;line-height:12px;color:#373d3f;font-weight:400;'>1.3</div>
<div class='t' style='right:658.9000000000001px;top:452px;font-size:10.7px;line-height:12px;color:#373d3f;font-weight:400;'>2.0</div>
<div class='t' style='left:1031.05px;width:600px;text-align:center;top:637px;font-size:11px;line-height:12px;color:#373d3f;font-weight:400;'>Proposal</div>
<div class='t' style='left:1152.15px;width:600px;text-align:center;top:637px;font-size:11px;line-height:12px;color:#373d3f;font-weight:400;'>Initial Contact</div>
<div class='t' style='left:1273.25px;width:600px;text-align:center;top:637px;font-size:11px;line-height:12px;color:#373d3f;font-weight:400;'>Close</div>
<div class='t' style='left:1394.35px;width:600px;text-align:center;top:637px;font-size:11px;line-height:12px;color:#373d3f;font-weight:400;'>Qualification</div>
<div class='t' style='left:1515.4499999999998px;width:600px;text-align:center;top:637px;font-size:11px;line-height:12px;color:#373d3f;font-weight:400;'>Meeting</div>
<div class='t' style='left:1273.5px;width:600px;text-align:center;top:662px;font-size:11px;line-height:12px;color:#373d3f;font-weight:700;'>Platform</div></body></html>
